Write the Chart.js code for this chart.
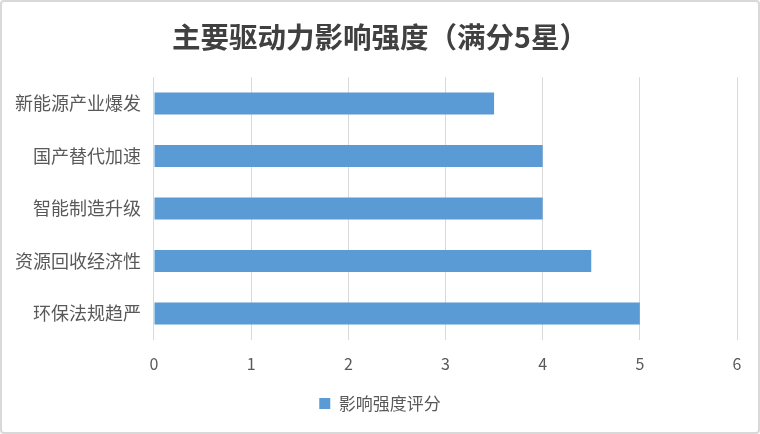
<!DOCTYPE html>
<html>
<head>
<meta charset="utf-8">
<script src="https://cdn.jsdelivr.net/npm/chart.js@4"></script>
<style>
  html, body { margin: 0; padding: 0; background: #fff; }
  #wrap { position: relative; width: 760px; height: 434px; box-sizing: border-box; border: 2px solid #d9d9d9; border-radius: 4px; background: #fff; }
  #wrap canvas { position: absolute; left: 0; top: 0; }
</style>
</head>
<body>
<div id="wrap"><canvas id="c"></canvas></div>
<script>
const categories = ["新能源产业爆发", "国产替代加速", "智能制造升级", "资源回收经济性", "环保法规趋严"];
const scores = [3.5, 4, 4, 4.5, 5];
const seriesName = "影响强度评分";
const titleText = "主要驱动力影响强度（满分5星）";

const FONT = "'PingFang SC', 'Noto Sans CJK SC', 'Noto Sans', sans-serif";

new Chart(document.getElementById('c'), {
  type: 'bar',
  data: {
    labels: categories,
    datasets: [{
      label: seriesName,
      data: scores,
      backgroundColor: '#5b9bd5',
      borderWidth: 0,
      barPercentage: 0.7,
      categoryPercentage: 0.6
    }]
  },
  options: {
    indexAxis: 'y',
    responsive: true,
    maintainAspectRatio: false,
    animation: false,
    layout: { padding: { left: 0, right: 0, top: 6, bottom: 10 } },
    plugins: {
      title: {
        display: true,
        text: titleText,
        color: '#404040',
        font: { family: FONT, size: 28.5, weight: 'bold' },
        padding: { top: 12, bottom: 23 }
      },
      legend: {
        display: true,
        position: 'bottom',
        labels: {
          color: '#595959',
          font: { family: FONT, size: 17 },
          boxWidth: 11,
          boxHeight: 11,
          padding: 6
        }
      },
      tooltip: { enabled: false }
    },
    scales: {
      x: {
        min: 0,
        max: 6,
        ticks: { stepSize: 1, color: '#595959', font: { family: FONT, size: 16 }, padding: 15 },
        grid: { color: '#d9d9d9', lineWidth: 1, drawTicks: false },
        border: { display: false }
      },
      y: {
        ticks: { color: '#595959', font: { family: FONT, size: 18 }, padding: 13 },
        grid: { display: false, drawTicks: false },
        border: { display: false }
      },
      yRight: {
        type: 'linear',
        position: 'right',
        display: true,
        ticks: { display: false },
        grid: { display: false, drawTicks: false },
        border: { display: false },
        afterFit: function (s) { s.width = 21; }
      }
    }
  }
});
</script>
</body>
</html>
